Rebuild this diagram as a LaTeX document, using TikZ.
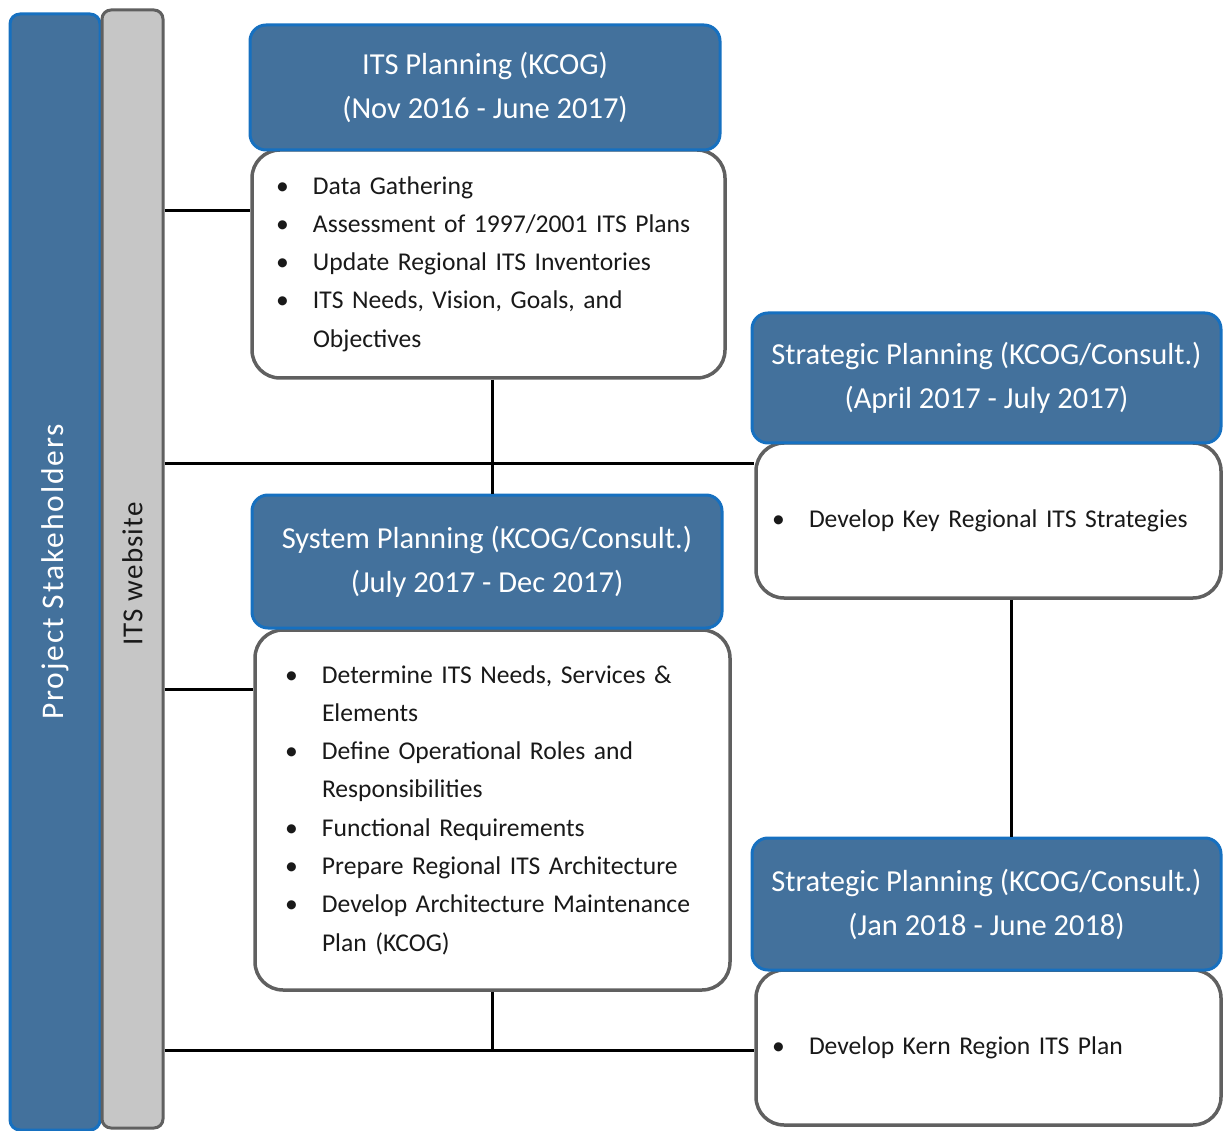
\documentclass[tikz,border=0pt]{standalone}
\usepackage{fontspec}
\setmainfont{Carlito}
\definecolor{hdrfill}{RGB}{67,113,156}
\definecolor{hdrline}{RGB}{22,112,192}
\definecolor{boxline}{RGB}{96,96,96}
\definecolor{webfill}{RGB}{198,198,198}
\definecolor{txt}{RGB}{25,25,25}
\newcommand{\itm}[1]{\mbox{\makebox[37pt][l]{\textbullet}#1}}
\newcommand{\cnt}[1]{\mbox{\hspace*{37pt}#1}}
\begin{document}
\begin{tikzpicture}[x=1pt,y=-1pt,
  hdr/.style={draw=hdrline, fill=hdrfill, line width=3pt, rounded corners=16pt,
    text=white, align=center, font=\fontsize{30.5}{44}\selectfont, inner sep=0pt},
  body/.style={draw=boxline, fill=white, line width=3.5pt, rounded corners=28pt,
    align=left, text=txt, font=\fontsize{25.6}{38.3}\selectfont, inner ysep=0pt},
  link/.style={line width=3pt, black}]
\useasboundingbox (0,0) rectangle (1224,1131);

% side bars
\node[draw=hdrline, fill=hdrfill, line width=3pt, rounded corners=10pt, rotate=90,
  minimum width=1116pt, minimum height=90pt, inner sep=0pt, text=white,
  font=\fontsize{31.5}{34}\selectfont\addfontfeatures{LetterSpace=6}] (stake) at (55,572) {Project Stakeholders};
\node[draw=boxline, fill=webfill, line width=3pt, rounded corners=9pt, rotate=90,
  minimum width=1118pt, minimum height=61pt, inner sep=0pt, text=txt,
  font=\fontsize{29}{32}\selectfont\addfontfeatures{LetterSpace=4}] (web) at (132.5,569) {ITS website\hspace*{10pt}};

% box 1
\node[body, minimum width=473pt, minimum height=228pt, inner xsep=24pt, text width=425pt] (b1) at (488.5,264)
  {\itm{Data Gathering}\\ \itm{Assessment of 1997/2001 ITS Plans}\\ \itm{Update Regional ITS Inventories}\\
   \itm{ITS Needs, Vision, Goals, and}\\ \cnt{Objectives}};
\node[hdr, minimum width=470pt, minimum height=125pt] (h1) at (485,87.5)
  {ITS Planning (KCOG)\\(Nov 2016 - June 2017)};

% box 2
\node[body, minimum width=475pt, minimum height=360pt, inner xsep=30pt, text width=415pt] (b2) at (492.5,810)
  {\itm{Determine ITS Needs, Services \&}\\ \cnt{Elements}\\ \itm{Define Operational Roles and}\\
   \cnt{Responsibilities}\\ \itm{Functional Requirements}\\ \itm{Prepare Regional ITS Architecture}\\
   \itm{Develop Architecture Maintenance}\\ \cnt{Plan (KCOG)}};
\node[hdr, minimum width=470pt, minimum height=133pt] (h2) at (487,561.5)
  {System Planning (KCOG/Consult.)\\(July 2017 - Dec 2017)};

% box 3
\node[body, minimum width=465pt, minimum height=155pt, inner xsep=16pt, text width=433pt] (b3) at (988.5,520.5)
  {\itm{Develop Key Regional ITS Strategies}};
\node[hdr, minimum width=469pt, minimum height=130pt] (h3) at (986.5,378)
  {Strategic Planning (KCOG/Consult.)\\(April 2017 - July 2017)};

% box 4
\node[body, minimum width=465pt, minimum height=155pt, inner xsep=16pt, text width=433pt] (b4) at (988.5,1047.5)
  {\itm{Develop Kern Region ITS Plan}};
\node[hdr, minimum width=469pt, minimum height=132pt] (h4) at (986.5,904)
  {Strategic Planning (KCOG/Consult.)\\(Jan 2018 - June 2018)};

% connectors
\coordinate (j2) at (492,1050);
\draw[link] (web.south |- 0,211) -- (b1.west |- 0,211);
\draw[link] (b1.south -| j2) -- (h2.north -| j2);
\draw[link] (web.south |- 0,464) -- (b3.west |- 0,464);
\draw[link] (web.south |- 0,689) -- (b2.west |- 0,689);
\draw[link] (b3.south -| 1011,0) -- (h4.north -| 1011,0);
\draw[link] (b2.south -| j2) -- (j2);
\draw[link] (web.south |- j2) -- (b4.west |- j2);
\end{tikzpicture}
\end{document}
